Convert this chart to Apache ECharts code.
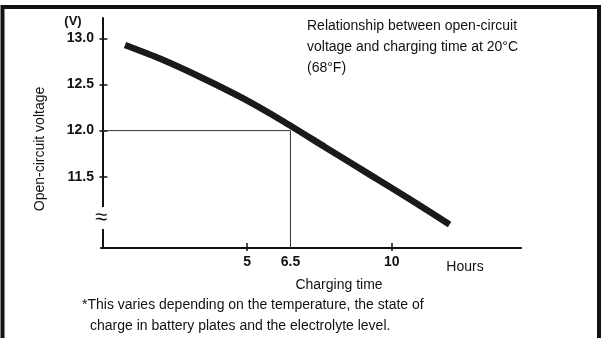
<!DOCTYPE html>
<html>
<head>
<meta charset="utf-8">
<script src="https://cdn.jsdelivr.net/npm/echarts@6/dist/echarts.min.js"></script>
<style>
  html, body { margin: 0; padding: 0; background: #fff; }
  #chart { width: 601px; height: 338px; }
</style>
</head>
<body>
<div id="chart"></div>
<script>
// Open-circuit voltage (V) against charging time (h) at 20 °C
const hours = [0.78, 2.0, 3.4, 4.8, 6.2, 7.7, 9.2, 10.6, 12.0];
const volts = [12.93, 12.78, 12.58, 12.36, 12.11, 11.82, 11.53, 11.26, 10.98];

// Axis ranges, ticks and labels
const xRange = [-0.05, 14.47];
const yRange = [10.725, 13.223];
const xTickValues = [5, 10];
const xLabelValues = [5, 6.5, 10];
const yTickValues = [11.5, 12.0, 12.5, 13.0];

// Read-off guide: 12.0 V reached after 6.5 h
const guideHour = 6.5;
const guideVolt = 12.0;

// Value at which the axis-break sign sits
const breakVolt = 11.05;

const FONT = "'Liberation Sans', Arial, Helvetica, sans-serif";
const INK = '#111';

const chart = echarts.init(document.getElementById('chart'), null, { renderer: 'canvas' });

const curve = hours.map((h, i) => [h, volts[i]]);
const guide = [[xRange[0], guideVolt], [guideHour, guideVolt], [guideHour, yRange[0]]];

chart.setOption({
  animation: false,
  backgroundColor: '#fff',
  grid: { left: 101, top: 18, width: 420, height: 230, containLabel: false },
  xAxis: [
    {
      type: 'value', min: xRange[0], max: xRange[1], position: 'bottom',
      splitLine: { show: false },
      axisLine: { show: true, lineStyle: { color: INK, width: 2 } },
      axisTick: { show: true, inside: false, length: 3, customValues: xTickValues, lineStyle: { color: INK, width: 1.5 } },
      axisLabel: {
        customValues: xLabelValues, margin: 7,
        fontFamily: FONT, fontSize: 14, fontWeight: 'bold', color: INK
      }
    },
    {
      type: 'value', min: xRange[0], max: xRange[1], position: 'bottom',
      splitLine: { show: false }, axisLine: { show: false }, axisLabel: { show: false },
      axisTick: { show: true, inside: true, length: 5, customValues: xTickValues, lineStyle: { color: INK, width: 1.5 } }
    }
  ],
  yAxis: [
    {
      type: 'value', min: yRange[0], max: yRange[1], position: 'left',
      splitLine: { show: false },
      axisLine: { show: true, lineStyle: { color: INK, width: 2 } },
      axisTick: { show: true, inside: false, length: 3, customValues: yTickValues, lineStyle: { color: INK, width: 1.5 } },
      axisLabel: {
        customValues: yTickValues, margin: 7,
        formatter: v => v.toFixed(1),
        fontFamily: FONT, fontSize: 14, fontWeight: 'bold', color: INK
      }
    },
    {
      type: 'value', min: yRange[0], max: yRange[1], position: 'left',
      splitLine: { show: false }, axisLine: { show: false }, axisLabel: { show: false },
      axisTick: { show: true, inside: true, length: 5, customValues: yTickValues, lineStyle: { color: INK, width: 1.5 } }
    }
  ],
  series: [
    {
      name: 'guide', type: 'line', xAxisIndex: 0, yAxisIndex: 0,
      data: guide, symbol: 'none', silent: true, z: 1,
      lineStyle: { color: '#333', width: 1 }
    },
    {
      name: 'Open-circuit voltage', type: 'line', xAxisIndex: 0, yAxisIndex: 0,
      data: curve, symbol: 'none', smooth: 0.25, z: 3,
      lineStyle: { color: '#1a1a1a', width: 6.5, cap: 'butt', join: 'round' }
    }
  ]
});

// Annotations placed through the axes' own scales where they refer to values
const breakY = chart.convertToPixel({ yAxisIndex: 0 }, breakVolt);
const axisX = chart.convertToPixel({ xAxisIndex: 0 }, xRange[0]);

chart.setOption({
  graphic: [
    {
      type: 'rect', silent: true, z: 100,
      shape: { x: 2.5, y: 7, width: 596.5, height: 420 },
      style: { fill: null, stroke: INK, lineWidth: 4 }
    },
    {
      type: 'text', x: axisX, y: breakY, z: 50,
      style: {
        text: '≈', fontFamily: FONT, fontSize: 22, fill: INK,
        align: 'center', verticalAlign: 'middle', backgroundColor: '#fff'
      }
    },
    {
      type: 'text', x: 73, y: 21,
      style: { text: '(V)', fontFamily: FONT, fontSize: 13, fontWeight: 'bold', fill: INK, align: 'center', verticalAlign: 'middle' }
    },
    {
      type: 'text', x: 40, y: 149, rotation: Math.PI / 2,
      style: { text: 'Open-circuit voltage', fontFamily: FONT, fontSize: 14, fill: INK, align: 'center', verticalAlign: 'middle' }
    },
    {
      type: 'text', x: 307, y: 16,
      style: {
        text: 'Relationship between open-circuit\nvoltage and charging time at 20°C\n(68°F)',
        fontFamily: FONT, fontSize: 14, lineHeight: 21, fill: INK, align: 'left', verticalAlign: 'top'
      }
    },
    {
      type: 'text', x: 339, y: 285,
      style: { text: 'Charging time', fontFamily: FONT, fontSize: 14, fill: INK, align: 'center', verticalAlign: 'middle' }
    },
    {
      type: 'text', x: 465, y: 267,
      style: { text: 'Hours', fontFamily: FONT, fontSize: 14, fill: INK, align: 'center', verticalAlign: 'middle' }
    },
    {
      type: 'text', x: 82, y: 305,
      style: { text: '*This varies depending on the temperature, the state of', fontFamily: FONT, fontSize: 14, fill: INK, align: 'left', verticalAlign: 'middle' }
    },
    {
      type: 'text', x: 90, y: 326,
      style: { text: 'charge in battery plates and the electrolyte level.', fontFamily: FONT, fontSize: 14, fill: INK, align: 'left', verticalAlign: 'middle' }
    }
  ]
});
</script>
</body>
</html>
